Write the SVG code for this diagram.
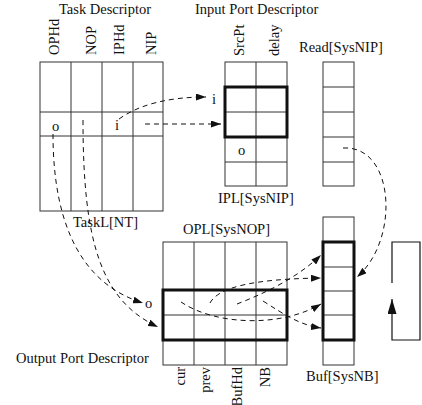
<svg xmlns="http://www.w3.org/2000/svg" width="422" height="405" viewBox="0 0 422 405">
  <style>
    text { font-family: "Liberation Serif", "Times New Roman", serif; font-size: 14.5px; fill: #111; }
    .grid { fill: none; stroke: #333; stroke-width: 1; }
    .bold { fill: none; stroke: #111; stroke-width: 3; }
    .link { fill: none; stroke: #111; stroke-width: 1; stroke-dasharray: 5 4; }
    .solid { fill: none; stroke: #111; stroke-width: 1.2; }
  </style>
  <defs>
    <marker id="head" markerUnits="userSpaceOnUse" markerWidth="11" markerHeight="7" refX="10" refY="3.5" orient="auto">
      <path d="M0,0 L10,3.5 L0,7 z" fill="#111"/>
    </marker>
    <marker id="bighead" markerUnits="userSpaceOnUse" markerWidth="15" markerHeight="9" refX="15" refY="4.5" orient="auto">
      <path d="M0,0 L15,4.5 L0,9 z" fill="#111"/>
    </marker>
  </defs>
  <rect width="422" height="405" fill="#fff"/>

  <!-- task descriptor table -->
  <g id="taskl">
    <text x="59" y="14">Task Descriptor</text>
    <text transform="translate(59,55) rotate(-90)">OPHd</text>
    <text transform="translate(96,55) rotate(-90)">NOP</text>
    <text transform="translate(124,55) rotate(-90)">IPHd</text>
    <text transform="translate(156,55) rotate(-90)">NIP</text>
    <rect class="grid" x="40" y="62" width="123" height="149"/>
    <path class="grid" d="M71,62V211M102,62V211M133,62V211M40,112H163M40,136H163"/>
    <text x="52" y="131">o</text>
    <text x="115" y="130">i</text>
    <text x="73" y="227">TaskL[NT]</text>
  </g>

  <!-- input port descriptor table -->
  <g id="ipl">
    <text x="195" y="14">Input Port Descriptor</text>
    <text transform="translate(244,56) rotate(-90)">SrcPt</text>
    <text transform="translate(279,56) rotate(-90)">delay</text>
    <rect class="grid" x="225" y="62" width="62" height="124"/>
    <path class="grid" d="M256,62V186M225,87H287M225,112H287M225,137H287M225,162H287"/>
    <rect class="bold" x="225" y="87" width="62" height="50"/>
    <text x="238" y="155">o</text>
    <text x="218" y="203">IPL[SysNIP]</text>
  </g>

  <!-- read array -->
  <g id="read">
    <text x="299" y="52">Read[SysNIP]</text>
    <rect class="grid" x="323" y="62" width="31" height="124"/>
    <path class="grid" d="M323,87H354M323,112H354M323,137H354M323,162H354"/>
  </g>

  <!-- output port descriptor table -->
  <g id="opl">
    <text x="183" y="234">OPL[SysNOP]</text>
    <rect class="grid" x="163" y="242" width="124" height="123"/>
    <path class="grid" d="M194,242V365M225,242V365M256,242V365M163,290H287M163,315H287M163,340H287"/>
    <rect class="bold" x="163" y="290" width="124" height="50"/>
    <text x="16" y="363">Output Port Descriptor</text>
    <text text-anchor="end" transform="translate(185,367) rotate(-90)">cur</text>
    <text text-anchor="end" transform="translate(210,367) rotate(-90)">prev</text>
    <text text-anchor="end" transform="translate(242,367) rotate(-90)">BufHd</text>
    <text text-anchor="end" transform="translate(270,367) rotate(-90)">NB</text>
  </g>

  <!-- buffer array -->
  <g id="buf">
    <rect class="grid" x="323" y="217" width="31" height="148"/>
    <path class="grid" d="M323,242H354M323,267H354M323,291H354M323,315H354M323,340H354"/>
    <rect class="bold" x="323" y="242" width="31" height="98"/>
    <text x="306" y="381">Buf[SysNB]</text>
  </g>

  <!-- circular buffer symbol -->
  <g id="cycle">
    <path class="solid" d="M392,283V242H420V340H392V313"/>
    <path class="solid" d="M392,313V299" marker-end="url(#bighead)"/>
  </g>

  <!-- pointer links -->
  <g id="links">
    <path class="link" d="M119,119 C140,104 170,97 206,97" marker-end="url(#head)"/>
    <text x="212" y="104">i</text>
    <path class="link" d="M145,124 H221" marker-end="url(#head)"/>
    <path class="link" d="M53,134 C53,230 85,285 143,303" marker-end="url(#head)"/>
    <text x="145" y="308">o</text>
    <path class="link" d="M83,120 C83,240 100,300 158,327" marker-end="url(#head)"/>
    <path class="link" d="M181,302 C215,325 280,328 321,304" marker-end="url(#head)"/>
    <path class="link" d="M210,303 C218,288 250,279 321,278" marker-end="url(#head)"/>
    <path class="link" d="M237,304 C260,295 295,280 321,255" marker-end="url(#head)"/>
    <path class="link" d="M263,301 C285,315 300,325 321,328" marker-end="url(#head)"/>
    <path class="link" d="M343,148 C395,145 400,240 357,277" marker-end="url(#head)"/>
  </g>
</svg>
